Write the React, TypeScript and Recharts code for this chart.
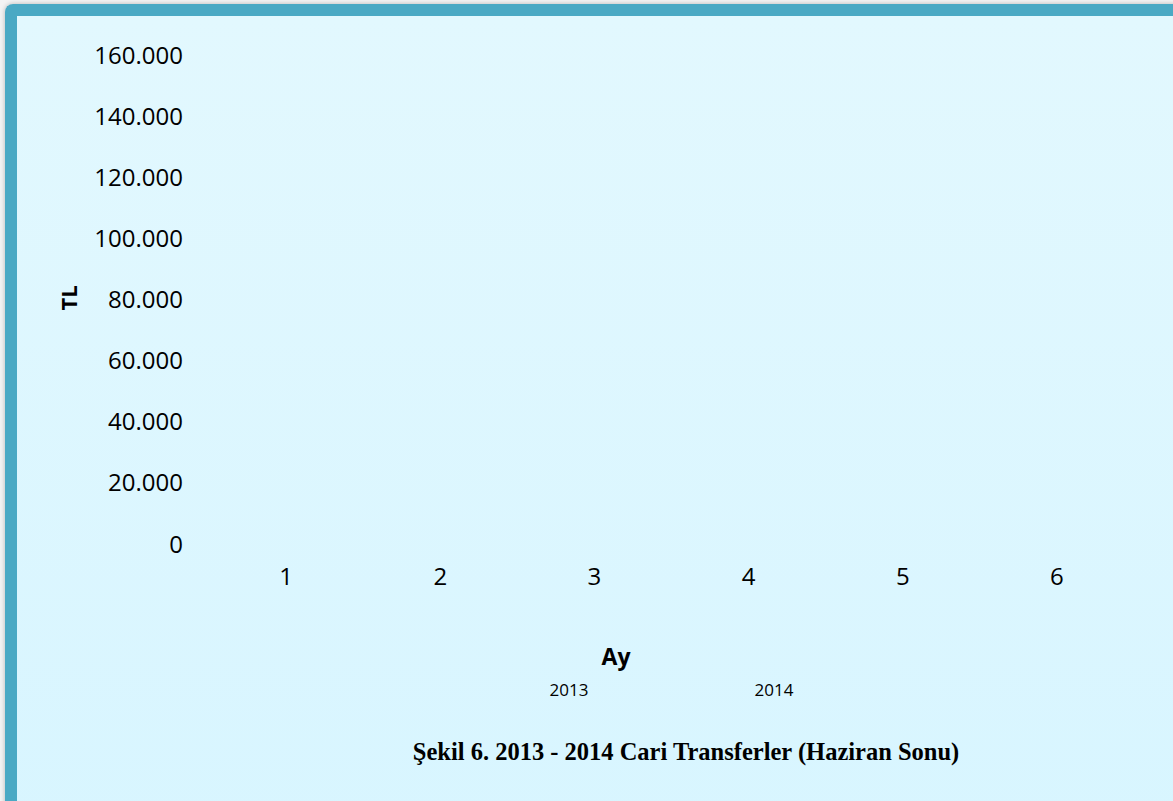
import React from "react";
import { BarChart, Bar, XAxis, YAxis, Legend } from "recharts";

const months = ["1", "2", "3", "4", "5", "6"];
// no bars are visible in the figure
const values2013 = [0, 0, 0, 0, 0, 0];
const values2014 = [0, 0, 0, 0, 0, 0];
const yTicks = [0, 20000, 40000, 60000, 80000, 100000, 120000, 140000, 160000];

const data = months.map((m, i) => ({ ay: m, y2013: values2013[i], y2014: values2014[i] }));

const sans = "'Open Sans', sans-serif";

function fmt(v: number) {
  return String(v).replace(/\B(?=(\d{3})+(?!\d))/g, ".");
}

function YearLegend({ payload }: { payload?: { value: string }[] }) {
  return (
    <div style={{ display: "flex", justifyContent: "center", height: 24 }}>
      {(payload ?? []).map((p) => (
        <span
          key={p.value}
          style={{ width: 205, textAlign: "center", fontFamily: sans, fontSize: 17, lineHeight: "24px", color: "#000" }}
        >
          {p.value}
        </span>
      ))}
    </div>
  );
}

export default function App() {
  return (
    <div
      style={{
        position: "fixed",
        left: 0,
        top: 0,
        width: 1173,
        height: 801,
        overflow: "hidden",
        background: "#f4f4f4",
      }}
    >
      <div
        style={{
          position: "absolute",
          left: 5,
          top: 4,
          width: 1300,
          height: 900,
          boxSizing: "border-box",
          borderTop: "12px solid #4AA9C4",
          borderLeft: "12px solid #4AA9C4",
          borderRadius: 8,
          background: "linear-gradient(#E2F8FE, #D7F5FF)",
          boxShadow: "0 0 5px rgba(0,0,0,0.25)",
        }}
      />
      <div style={{ position: "absolute", left: 0, top: 0 }}>
        <BarChart
          width={1173}
          height={801}
          data={data}
          margin={{ top: 55, right: 39, bottom: 203, left: 0 }}
          barCategoryGap="20%"
        >
          <XAxis
            dataKey="ay"
            height={30}
            axisLine={false}
            tickLine={false}
            tickSize={0}
            tickMargin={24}
            tick={{ fill: "#000", fontSize: 24, fontFamily: sans }}
          />
          <YAxis
            width={209}
            domain={[0, 160000]}
            ticks={yTicks}
            axisLine={false}
            tickLine={false}
            tickSize={0}
            tickMargin={26}
            tickFormatter={fmt}
            tick={{ fill: "#000", fontSize: 24, fontFamily: sans }}
          />
          <Legend
            content={<YearLegend />}
            wrapperStyle={{ top: 678, left: 209, width: 925 }}
          />
          <Bar dataKey="y2013" name="2013" fill="#4F81BD" isAnimationActive={false} />
          <Bar dataKey="y2014" name="2014" fill="#C0504D" isAnimationActive={false} />
        </BarChart>
      </div>
      <div
        style={{
          position: "absolute",
          left: 68,
          top: 298,
          transform: "translate(-50%, -50%) rotate(-90deg)",
          fontFamily: sans,
          fontWeight: 700,
          fontSize: 22,
          color: "#000",
        }}
      >
        TL
      </div>
      <div
        style={{
          position: "absolute",
          left: 616,
          top: 656,
          transform: "translate(-50%, -50%)",
          fontFamily: sans,
          fontWeight: 700,
          fontSize: 23,
          color: "#000",
        }}
      >
        Ay
      </div>
      <div
        style={{
          position: "absolute",
          left: 686,
          top: 752,
          transform: "translate(-50%, -50%)",
          whiteSpace: "nowrap",
          fontFamily: "'Liberation Serif', 'Times New Roman', serif",
          fontWeight: 700,
          fontSize: 24.5,
          color: "#000",
        }}
      >
        Şekil 6. 2013 - 2014 Cari Transferler (Haziran Sonu)
      </div>
    </div>
  );
}
